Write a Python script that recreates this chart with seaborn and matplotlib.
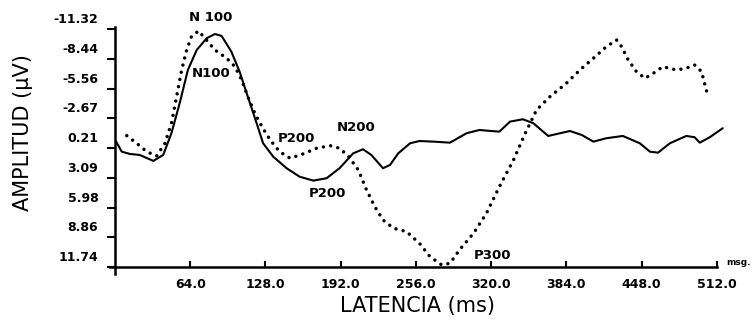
import numpy as np
import pandas as pd
import matplotlib
matplotlib.use("Agg")
import matplotlib.pyplot as plt
import matplotlib.transforms as mtransforms
import seaborn as sns

# ---- data ----
solid_ms = [1, 5.7, 12.8, 21, 32.6, 41, 48, 55, 62, 69.5, 78, 85, 90.7, 99, 106, 113,
            120.5, 126, 134.6, 146, 157, 168.7, 180, 191, 202.7, 211, 218, 228, 234,
            241, 251, 259, 271, 285, 299, 310, 320, 327, 336, 347, 356, 368.5, 378.5,
            387, 397, 407, 418, 432, 446.5, 455, 462, 472, 486, 493, 497.5, 506, 517]
solid_uv = [-0.42, 0.55, 0.78, 0.87, 1.45, 0.87, -1.23, -4.14, -7.37, -9.31, -10.45,
            -10.86, -10.67, -9.15, -7.21, -4.78, -2.2, -0.26, 1.04, 2.16, 2.98, 3.36,
            3.13, 2.16, 0.71, 0.32, 0.87, 2.16, 1.84, 0.71, -0.26, -0.48, -0.42, -0.32,
            -1.23, -1.55, -1.45, -1.39, -2.36, -2.59, -2.2, -0.97, -1.23, -1.45, -1.07,
            -0.42, -0.75, -0.97, -0.26, 0.55, 0.65, -0.26, -0.97, -0.85, -0.32, -0.85,
            -1.72]

dotted_ms = [10, 18.4, 27, 35.4, 42.5, 48, 52.4, 56.7, 61, 65, 71, 76.5, 85, 95, 102,
             107.8, 113, 119, 125, 132, 140, 149, 160, 171.5, 183, 191, 198.4, 207, 214,
             221, 228, 237, 248, 259, 268, 278, 285, 293, 305, 316, 327, 339, 349, 358.6,
             370, 384, 395.5, 407, 418, 426.7, 431, 436.6, 443.6, 450.8, 458, 466, 477.6,
             486, 493, 499, 501.5, 504.6]
dotted_uv = [-1.0, -0.26, 0.55, 0.97, -0.26, -2.2, -4.78, -7.37, -9.31, -10.6, -11.16,
             -10.45, -9.31, -8.51, -7.7, -6.4, -4.78, -3.17, -1.87, -0.58, 0.55, 1.19,
             0.77, 0.22, -0.03, 0.22, 0.97, 2.33, 4.27, 5.89, 7.18, 7.98, 8.31, 9.44,
             10.74, 11.54, 11.38, 10.09, 8.47, 6.53, 3.95, 1.36, -1.23, -3.49, -4.78,
             -6.08, -7.37, -8.51, -9.63, -10.28, -9.63, -8.34, -7.21, -6.57, -7.05,
             -7.69, -7.37, -7.54, -7.86, -7.21, -6.08, -4.78]

x_ticks = [64.0, 128.0, 192.0, 256.0, 320.0, 384.0, 448.0, 512.0]
y_ticks = [-11.32, -8.44, -5.56, -2.67, 0.21, 3.09, 5.98, 8.86, 11.74]

peak_labels = ["N 100", "N100", "P200", "N200", "P200", "P300"]
peak_ms = [81, 82, 154, 205, 181, 321]
peak_uv = [-12.5, -7.07, -0.77, -1.83, 4.57, 10.58]

# ---- plot ----
sns.set_style("ticks")
plt.rcParams['font.family'] = ['DejaVu Sans']
plt.rcParams['text.color'] = 'black'
plt.rcParams['axes.labelcolor'] = 'black'

fig = plt.figure(figsize=(7.56, 3.26), dpi=100)
ax = fig.add_axes([115 / 756, 59 / 326, (738 - 115) / 756, (267 - 27.4) / 326])

df_s = pd.DataFrame({"ms": solid_ms, "uv": solid_uv})
df_d = pd.DataFrame({"ms": dotted_ms, "uv": dotted_uv})
sns.lineplot(data=df_s, x="ms", y="uv", ax=ax, color="black", linewidth=1.5,
             sort=False, clip_on=False, solid_joinstyle="round")
sns.lineplot(data=df_d, x="ms", y="uv", ax=ax, color="black", linewidth=2.5,
             sort=False, clip_on=False, linestyle=(0, (0.01, 2.1)),
             dash_capstyle="round")

ax.set_xlim(0, 530)
ax.set_ylim(11.74, -11.5)

sns.despine(ax=ax)
ax.spines['bottom'].set_bounds(-4, 512)
ax.spines['left'].set_bounds(12.4, -11.5)
for s in ("bottom", "left"):
    ax.spines[s].set_linewidth(1.8)
    ax.spines[s].set_color("black")

ax.set_xticks(x_ticks)
ax.set_xticklabels([f"{v:.1f}" for v in x_ticks], fontsize=9, fontweight="bold")
ax.set_yticks(y_ticks)
ax.set_yticklabels([f"{v:.2f}" for v in y_ticks], fontsize=9, fontweight="bold")
ax.tick_params(axis="x", direction="in", length=4.5, width=1.5, pad=8, colors="black")
ax.tick_params(axis="y", direction="out", length=6, width=1.5, pad=6, colors="black")

off = mtransforms.ScaledTranslation(0, 0.11, fig.dpi_scale_trans)
for lab in ax.get_yticklabels():
    lab.set_transform(lab.get_transform() + off)

ax.set_xlabel("LATENCIA (ms)", fontsize=15, color="black")
ax.set_ylabel("AMPLITUD (µV)", fontsize=15, color="black")
ax.xaxis.set_label_coords((417 - 115) / (738 - 115), -0.12)
ax.yaxis.set_label_coords(-(115 - 33) / (738 - 115), 0.56)

for t, xm, yv in zip(peak_labels, peak_ms, peak_uv):
    ax.text(xm, yv, t, fontsize=9.5, fontweight="bold", ha="center", va="center",
            color="black", clip_on=False)
ax.text(520, 11.3, "msg.", fontsize=6.5, fontweight="bold", ha="left", va="center",
        color="black", clip_on=False)

ax.grid(False)
fig.savefig("out.png", dpi=100)
